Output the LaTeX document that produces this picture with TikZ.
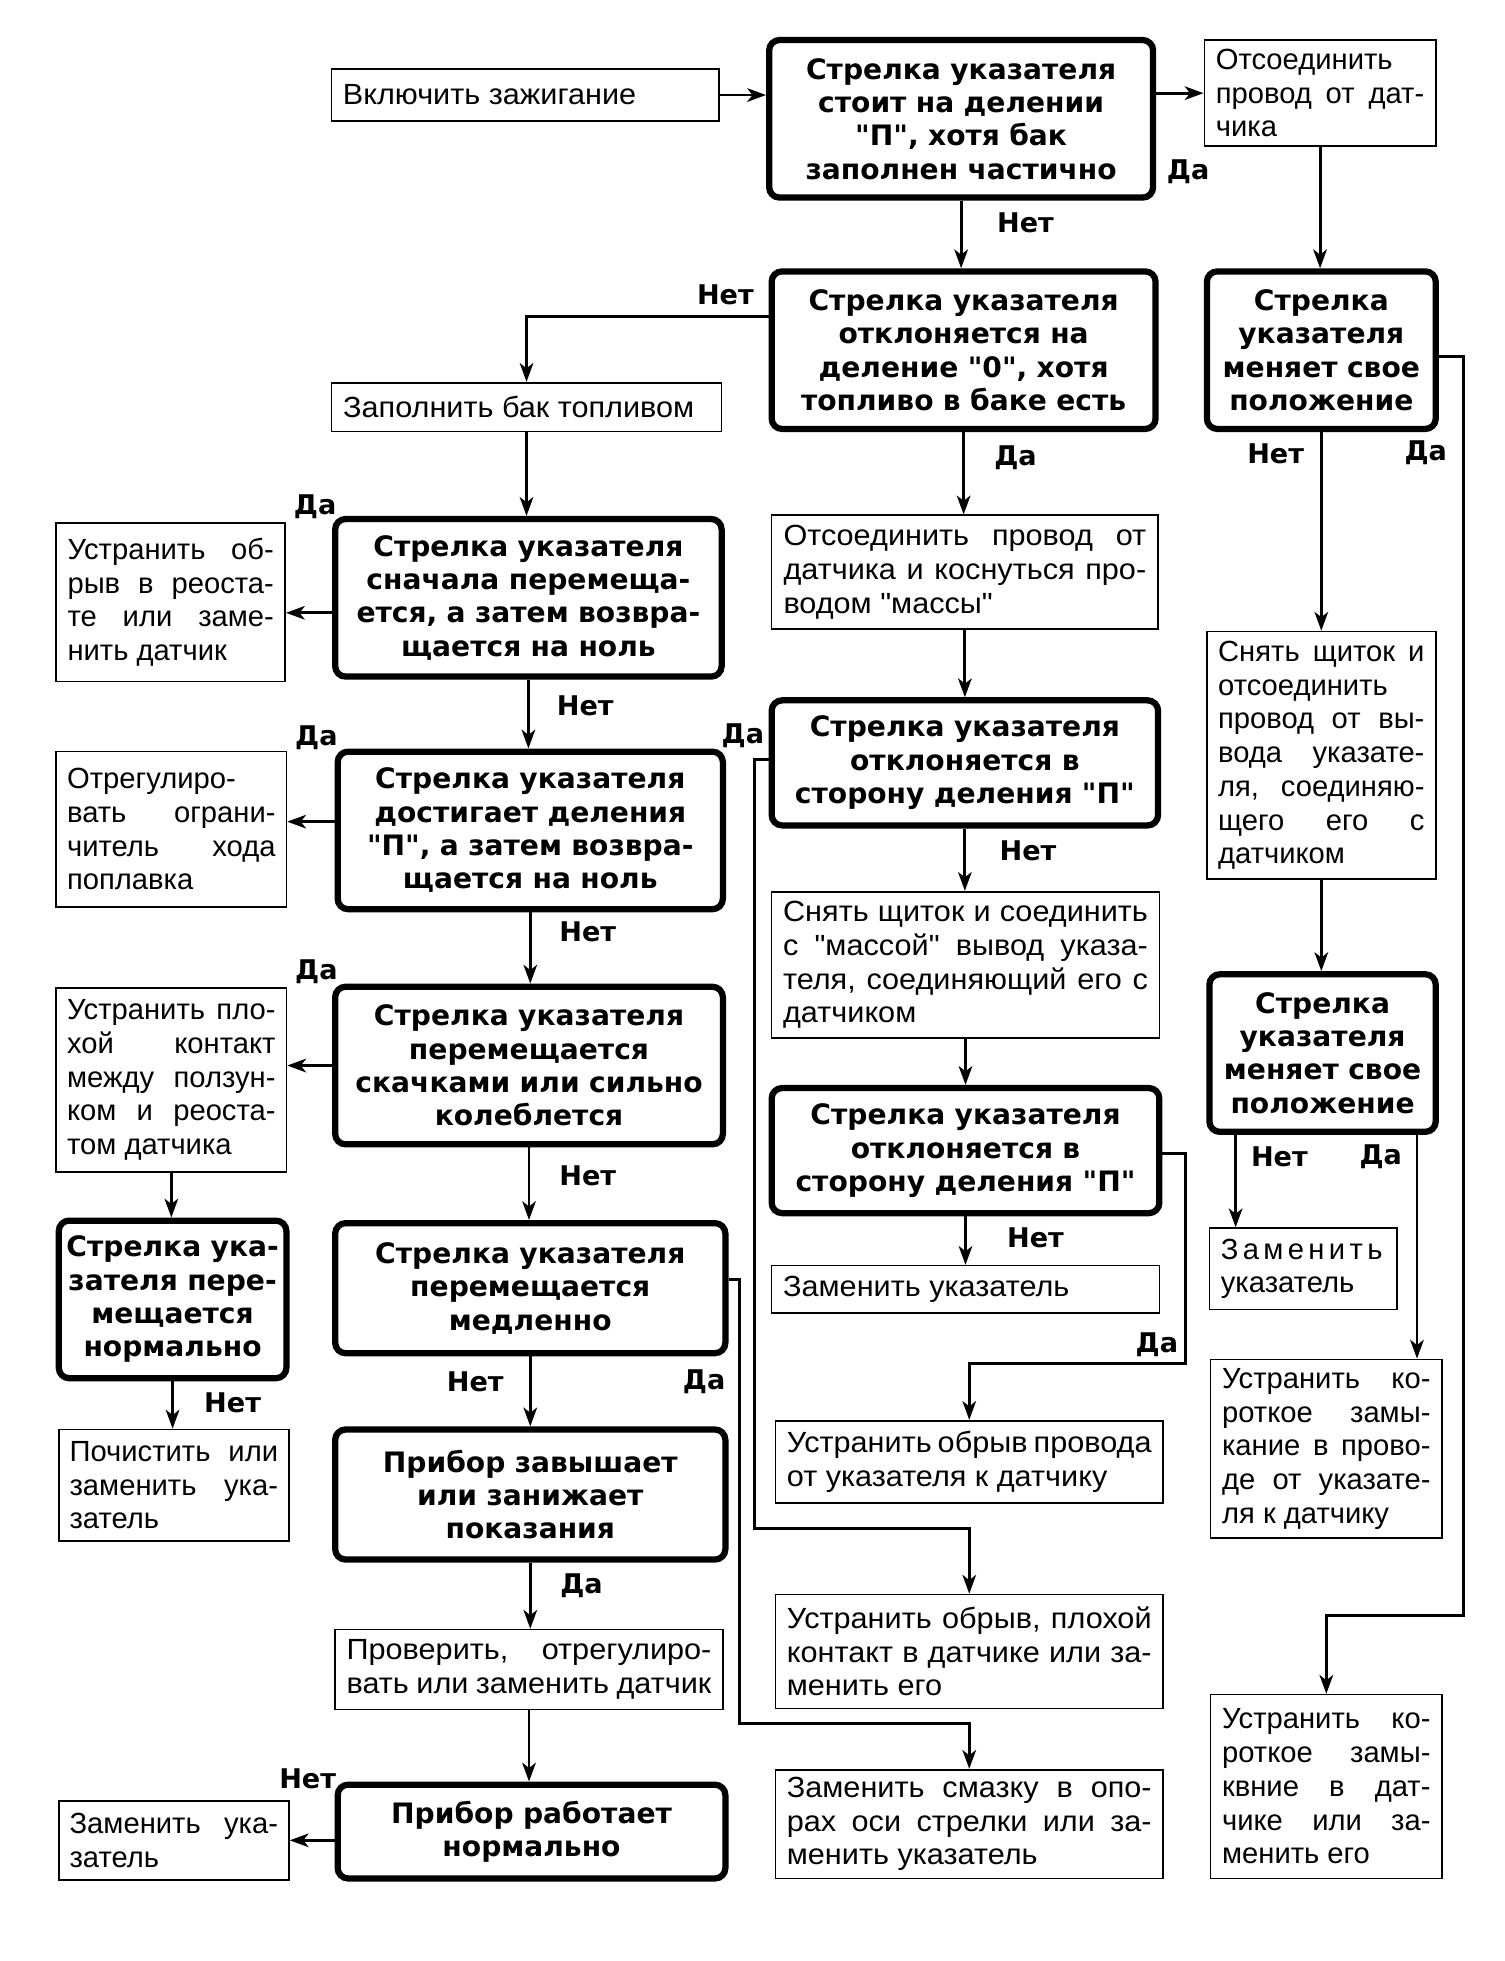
\documentclass[tikz,border=0pt]{standalone}
\usepackage{fontspec}
\setmainfont{Liberation Sans}
\newfontfamily\heavy{DejaVu Sans}
\newfontfamily\rf{Liberation Sans}
\newfontfamily\rfw{Liberation Sans}[FakeStretch=1.05]
\usetikzlibrary{arrows.meta}
\newcommand\brk{\linebreak}
\begin{document}
\begin{tikzpicture}[x=0.6pt,y=-0.6pt,
  dec/.style={draw, line width=3pt, rounded corners=5pt, align=center, inner sep=2pt,
    font=\heavy\bfseries\fontsize{13.5}{16}\selectfont},
  rbox/.style={draw, line width=0.8pt, align=justify, inner xsep=5pt, inner ysep=2pt,
    font=\rf\fontsize{14}{16.2}\selectfont,
    execute at begin node={\tolerance=10000\hbadness=10000\hfuzz=20pt\relax}},
  wide/.style={font=\rfw\fontsize{14}{16.2}\selectfont},
  lbl/.style={font=\heavy\bfseries\fontsize{13}{15}\selectfont, inner sep=0pt},
  arr/.style={line width=1.4pt, -{Stealth[length=9pt,width=6.5pt,inset=2.5pt]}},
  sz/.style n args={3}{minimum width=#1, minimum height=#2, text width=#3}
]
\useasboundingbox[fill=white] (0,0) rectangle (1203,1568);

% ---- decision boxes (bold) ----
\node[dec, sz={184.2pt}{75.6pt}{176pt}] (D1) at (768.5,95)
  {Стрелка указателя\\стоит на делении\\"П", хотя бак\\заполнен частично};
\node[dec, sz={184.2pt}{75.6pt}{176pt}] (D2) at (770.5,280)
  {Стрелка указателя\\отклоняется на\\деление "0", хотя\\топливо в баке есть};
\node[dec, sz={109.8pt}{75.6pt}{104pt}] (DR1) at (1056.5,280)
  {Стрелка\\указателя\\меняет свое\\положение};
\node[dec, sz={185.4pt}{75.6pt}{178pt}] (D3) at (422.5,478)
  {Стрелка указателя\\сначала перемеща-\\ется, а затем возвра-\\щается на ноль};
\node[dec, sz={185.4pt}{60pt}{178pt}] (D4) at (771.5,610)
  {Стрелка указателя\\отклоняется в\\сторону деления "П"};
\node[dec, sz={184.8pt}{75.6pt}{178pt}] (D5) at (424,664)
  {Стрелка указателя\\достигает деления\\"П", а затем возвра-\\щается на ноль};
\node[dec, sz={186pt}{75.6pt}{178pt}] (D6) at (423,852)
  {Стрелка указателя\\перемещается\\скачками или сильно\\колеблется};
\node[dec, sz={108.6pt}{75.6pt}{104pt}] (DR2) at (1057.5,842)
  {Стрелка\\указателя\\меняет свое\\положение};
\node[dec, sz={186pt}{60pt}{178pt}] (D11) at (772,920)
  {Стрелка указателя\\отклоняется в\\сторону деления "П"};
\node[dec, sz={109.2pt}{75.6pt}{105pt}] (D7L) at (138,1039)
  {Стрелка ука-\\зателя пере-\\мещается\\нормально};
\node[dec, sz={187.2pt}{62.4pt}{178pt}] (D8) at (424,1030)
  {Стрелка указателя\\перемещается\\медленно};
\node[dec, sz={187.2pt}{62.4pt}{178pt}] (D9) at (424,1195)
  {Прибор завышает\\или занижает\\показания};
\node[dec, sz={186pt}{45pt}{178pt}] (D10) at (425,1464.5)
  {Прибор работает\\нормально};

% ---- action boxes ----
\node[rbox, wide, sz={186pt}{25.2pt}{175pt}] (start) at (420,76) {Включить~зажигание};
\node[rbox, sz={111pt}{51pt}{100pt}] (B1) at (1055.5,74.5)
  {Отсоединить\brk провод~от~дат-\brk чика};
\node[rbox, wide, sz={187.2pt}{23.4pt}{176pt}] (Bfill) at (421,325.5) {Заполнить~бак~топливом};
\node[rbox, wide, sz={185.4pt}{54.6pt}{174pt}] (B2) at (771.5,457.5)
  {Отсоединить~провод~от\brk датчика~и~коснуться~про-\brk водом~"массы"};
\node[rbox, sz={109.8pt}{76.2pt}{99pt}] (L1) at (136.5,481.5)
  {Устранить~об-\brk рыв~в~реоста-\brk те~или~заме-\brk нить~датчик};
\node[rbox, sz={110.4pt}{74.4pt}{100pt}] (L2) at (137,663)
  {Отрегулиро-\brk вать~ограни-\brk читель~хода\brk поплавка};
\node[rbox, wide, sz={186pt}{70.2pt}{175pt}] (B3) at (772,771.5)
  {Снять~щиток~и~соединить\brk с~"массой"~вывод~указа-\brk теля,~соединяющий~его~с\brk датчиком};
\node[rbox, sz={109.8pt}{118.8pt}{99pt}] (BR2) at (1056.5,604)
  {Снять~щиток~и\brk отсоединить\brk провод~от~вы-\brk вода~указате-\brk ля,~соединяю-\brk щего~его~с\brk датчиком};
\node[rbox, sz={110.4pt}{88.2pt}{100pt}] (L3) at (137,863.5)
  {Устранить~пло-\brk хой~контакт\brk между~ползун-\brk ком~и~реоста-\brk том~датчика};
\node[rbox, sz={90pt}{39pt}{79pt}] (BR3) at (1042,1014.5)
  {{\addfontfeature{LetterSpace=15}Заменить}\brk указатель};
\node[rbox, wide, sz={186pt}{22.8pt}{175pt}] (Bzam) at (772,1031) {Заменить~указатель};
\node[rbox, sz={111pt}{85.8pt}{100pt}] (BR4) at (1060.5,1158.5)
  {Устранить~ко-\brk роткое~замы-\brk кание~в~прово-\brk де~от~указате-\brk ля~к~датчику};
\node[rbox, wide, sz={186pt}{39.6pt}{175pt}] (Bobrprov) at (775,1169)
  {Устранить~обрыв~провода\brk от~указателя~к~датчику};
\node[rbox, sz={110.4pt}{53.4pt}{100pt}] (L4) at (139,1187.5)
  {Почистить~или\brk заменить~ука-\brk затель};
\node[rbox, wide, sz={186pt}{54.6pt}{175pt}] (Bobrdat) at (775,1320.5)
  {Устранить~обрыв,~плохой\brk контакт~в~датчике~или~за-\brk менить~его};
\node[rbox, wide, sz={186pt}{38.4pt}{175pt}] (Bcheck) at (423,1335)
  {Проверить,~отрегулиро-\brk вать~или~заменить~датчик};
\node[rbox, sz={111pt}{88.2pt}{100pt}] (BRR) at (1060.5,1428.5)
  {Устранить~ко-\brk роткое~замы-\brk квние~в~дат-\brk чике~или~за-\brk менить~его};
\node[rbox, sz={110.4pt}{37.8pt}{100pt}] (L5) at (139,1471.5)
  {Заменить~ука-\brk затель};
\node[rbox, wide, sz={186pt}{52.2pt}{175pt}] (Bsmaz) at (775,1458.5)
  {Заменить~смазку~в~опо-\brk рах~оси~стрелки~или~за-\brk менить~указатель};

% ---- labels ----
\node[lbl] (t1) at (950,137) {Да};
\node[lbl] (t2) at (820,178) {Нет};
\node[lbl] (t3) at (580,236) {Нет};
\node[lbl] (t4) at (812,366) {Да};
\node[lbl] (t5) at (1020,363) {Нет};
\node[lbl] (t6) at (1140,362) {Да};
\node[lbl] (t7) at (252,405) {Да};
\node[lbl] (t8) at (468,564) {Нет};
\node[lbl] (t9) at (594,588) {Да};
\node[lbl] (t10) at (253,590) {Да};
\node[lbl] (t11) at (822,680) {Нет};
\node[lbl] (t12) at (470,745) {Нет};
\node[lbl] (t13) at (253,777) {Да};
\node[lbl] (t14) at (1023,925) {Нет};
\node[lbl] (t15) at (1104,925) {Да};
\node[lbl] (t16) at (470,940) {Нет};
\node[lbl] (t17) at (828,990) {Нет};
\node[lbl] (t18) at (925,1075) {Да};
\node[lbl] (t19) at (380,1105) {Нет};
\node[lbl] (t20) at (563,1105) {Да};
\node[lbl] (t21) at (186,1122) {Нет};
\node[lbl] (t22) at (465,1268) {Да};
\node[lbl] (t23) at (246,1422) {Нет};

% ---- connectors ----
\draw[arr] (start.east) -- (start.east -| D1.west);
\draw[arr] (D1.east |- B1.west) -- (B1.west);
\draw[arr] (D1.south) -- (D1.south |- D2.north);
\draw[arr] (B1.south) -- (B1.south |- DR1.north);
\draw[arr] ([yshift=16.2pt]D2.west) -| (Bfill.north);
\draw[arr] (Bfill.south) -- (Bfill.south |- D3.north);
\draw[arr] (D2.south) -- (D2.south |- B2.north);
\draw[arr] (B2.south) -- (B2.south |- D4.north);
\draw[arr] ([yshift=-7.2pt]D3.west) -- ([yshift=-7.2pt]D3.west -| L1.east);
\draw[arr] (D3.south) -- (D3.south |- D5.north);
\draw[arr] ([yshift=4.2pt]D5.west) -- ([yshift=4.2pt]D5.west -| L2.east);
\draw[arr] (D5.south) -- (D5.south |- D6.north);
\draw[arr] (D6.west) -- (D6.west -| L3.east);
\draw[arr] (L3.south) -- (L3.south |- D7L.north);
\draw[arr] (D7L.south) -- (D7L.south |- L4.north);
\draw[arr] (D6.south) -- (D6.south |- D8.north);
\draw[arr] (D8.south) -- (D8.south |- D9.north);
\draw[arr] (D9.south) -- (D9.south |- Bcheck.north);
\draw[arr] (Bcheck.south) -- (Bcheck.south |- D10.north);
\draw[arr] (L5.east -| D10.west) -- (L5.east);
\coordinate (c8) at (591,1378);
\draw[arr] ([yshift=4.2pt]D8.east) -| (c8) -| (Bsmaz.north);
\coordinate (c4) at (603,1222);
\draw[arr] ([yshift=1.8pt]D4.west) -| (c4) -| (Bobrdat.north);
\draw[arr] (D4.south) -- (D4.south |- B3.north);
\draw[arr] (B3.south) -- (B3.south |- D11.north);
\draw[arr] (D11.south) -- (D11.south |- Bzam.north);
\coordinate (c11) at (948,1090);
\draw[arr] ([yshift=-1.2pt]D11.east) -| (c11) -| (Bobrprov.north);
\draw[arr] (DR1.south) -- (DR1.south |- BR2.north);
\coordinate (cR) at (1170,1292);
\draw[arr] ([yshift=-3pt]DR1.east) -| (cR) -| (BRR.north);
\draw[arr] (BR2.south) -- (BR2.south |- DR2.north);
\draw[arr] ([xshift=-41.7pt]DR2.south) -- ([xshift=-41.7pt]DR2.south |- BR3.north);
\draw[arr] ([xshift=45.3pt]DR2.south) -- ([xshift=45.3pt]DR2.south |- BR4.north);
\end{tikzpicture}
\end{document}
